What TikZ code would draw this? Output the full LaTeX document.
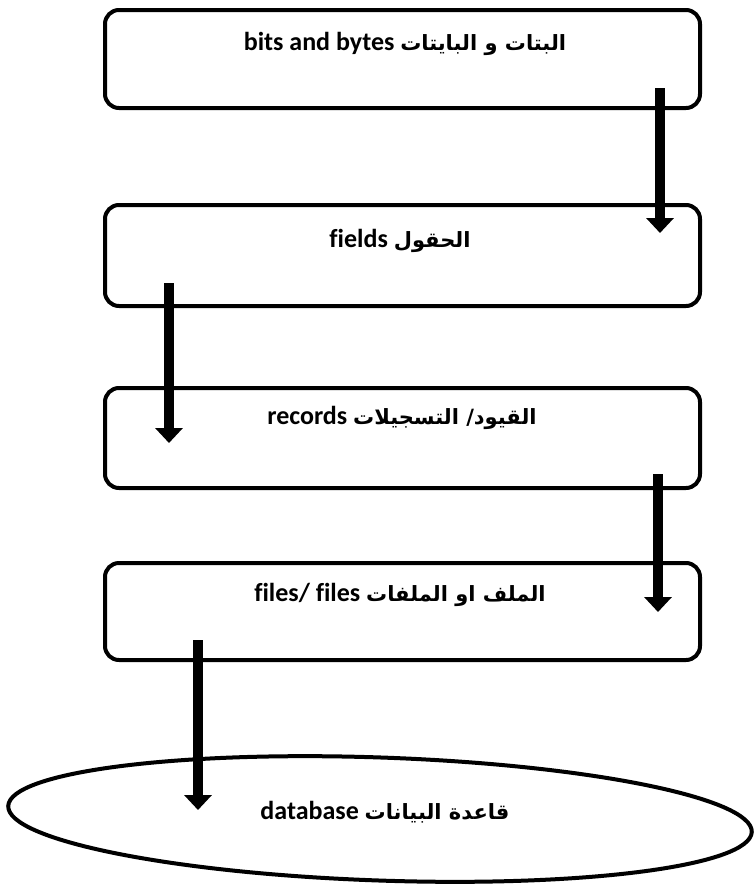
\documentclass[tikz,border=0pt]{standalone}
\usepackage{fontspec}
\setmainfont[Ligatures=NoCommon]{Carlito}
\newfontfamily\arabicfont[Script=Arabic]{DejaVu Sans}
\TeXXeTstate=1
\usetikzlibrary{positioning, arrows.meta, shapes.geometric, calc}

\newcommand{\arlabel}[2]{\beginR{\arabicfont\bfseries\fontsize{10.5}{14}\selectfont #1} \beginL #2\endL\endR}

\begin{document}
\begin{tikzpicture}[
    x=0.5pt, y=0.5pt,
    box/.style={rectangle, draw, line width=2pt, rounded corners=7pt, minimum width=297.5pt, inner sep=0pt, outer sep=0pt},
    lbl/.style={font=\bfseries\fontsize{13}{15}\selectfont, inner sep=0pt},
    arrow/.style={-{Triangle[width=13.5pt, length=7.5pt]}, line width=5pt}
]
\useasboundingbox (0,0) rectangle (755,-889);

% Boxes
\node[box, minimum height=49pt] (bits) at (402.5,-59) {};
\node[box, minimum height=50.5pt] (fields) at (402.5,-255.5) {};
\node[box, minimum height=50pt] (records) at (402.5,-438) {};
\node[box, minimum height=48.5pt] (files) at (402.5,-611.5) {};
\node[ellipse, draw, line width=2pt, minimum width=372pt, minimum height=61.5pt, inner sep=0pt, outer sep=0pt, rotate=-2] (db) at (380,-819) {};

% Labels
\node[lbl] (bitsText) at (405,-44) {\arlabel{البتات و البايتات}{bits and bytes}};
\node[lbl] (fieldsText) at (400,-241) {\arlabel{الحقول}{fields}};
\node[lbl] (recordsText) at (402,-418) {\arlabel{القيود/ التسجيلات}{records}};
\node[lbl] (filesText) at (400,-595) {\arlabel{الملف او الملفات}{files/ files}};
\node[lbl] (dbText) at (385,-812) {\arlabel{قاعدة البيانات}{database}};

% Arrows
\draw[arrow] ($(bits.south east)+(-40,20)$) -- ($(fields.north east)+(-40,-28)$);
\draw[arrow] ($(fields.south west)+(64,23)$) -- ($(records.north west)+(64,-55)$);
\draw[arrow] ($(records.south east)+(-42,14)$) -- ($(files.north east)+(-42,-49)$);
\draw[arrow] ($(files.south west)+(93,20)$) -- ($(db.center)+(-182,9)$);
\end{tikzpicture}
\end{document}
